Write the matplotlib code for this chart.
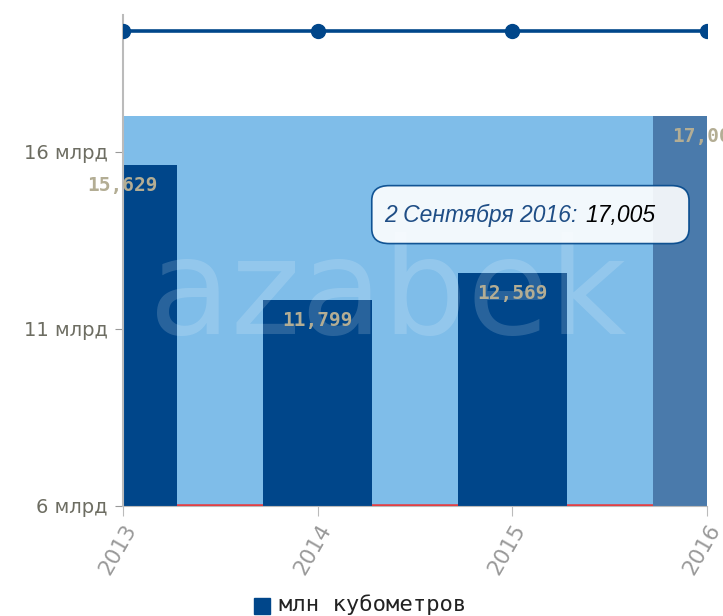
import matplotlib.pyplot as plt
import numpy as np
from matplotlib.patches import FancyBboxPatch

# data (values in billions of cubic metres)
years = [2013, 2014, 2015, 2016]
values = [15.629, 11.799, 12.569, 17.005]
bar_labels = ['15,629', '11,799', '12,569', '17,005']
yticks = [6, 11, 16]
ytick_labels = ['6 млрд', '11 млрд', '16 млрд']
band_top = 17.005     # light blue area
top_line = [19.4, 19.4, 19.4, 19.4]

dark = '#00468a'
hover = '#4a7aab'
light = '#7fbde9'

fig = plt.figure(figsize=(7.23, 6.16), dpi=100)
ax = fig.add_axes([0.170, 0.179, 0.808, 0.797])
ax.set_xlim(2013, 2016)
ax.set_ylim(6, 19.87)

x = np.array(years)
ax.fill_between([2013, 2016], 6, band_top, color=light, zorder=1, lw=0)
ax.plot([2013, 2016], [6.03, 6.03], color='#e8383d', lw=1.8, zorder=1.5)

colors = [dark, dark, dark, hover]
bars = ax.bar(x, np.array(values) - 6, bottom=6, width=0.56, color=colors, zorder=2)

# watermark
ax.text(2014.36, 10.85, 'azabek', fontsize=96, color='white', alpha=0.16,
        ha='center', va='baseline', family='DejaVu Sans', zorder=3)

for xi, v, lab in zip(x, values, bar_labels):
    ax.text(xi, v - 0.3, lab, ha='center', va='top', fontsize=14, fontweight='bold',
            color='#b3ad94', zorder=4, clip_on=False, family='DejaVu Sans Mono')

ax.plot(x, top_line, color=dark, lw=2.6, marker='o', ms=10, zorder=4)

# tooltip
tip = FancyBboxPatch((0.43, 0.538), 0.535, 0.11, boxstyle='round,pad=0.004,rounding_size=0.03',
                     transform=ax.transAxes, facecolor='white', alpha=0.9, edgecolor=dark,
                     lw=1.2, zorder=5)
ax.add_patch(tip)
t1 = ax.text(0.448, 0.592, '2 Сентября 2016:', transform=ax.transAxes, fontsize=16.5,
             style='italic', color='#1f4e86', va='center', family='Liberation Sans', zorder=6)
fig.canvas.draw()
bb = t1.get_window_extent().transformed(ax.transAxes.inverted())
ax.text(bb.x1 + 0.012, 0.592, '17,005', transform=ax.transAxes, fontsize=16.5, style='italic',
        color='black', va='center', family='Liberation Sans', zorder=6)

ax.set_yticks(yticks, ytick_labels)
ax.set_xticks(years, [str(y) for y in years], rotation=60, ha='right', rotation_mode='anchor')
ax.tick_params(axis='y', colors='#999999', labelcolor='#6d6d62', labelsize=14, length=6, pad=5)
ax.tick_params(axis='x', colors='#bbbbbb', labelcolor='#999999', labelsize=15.5, length=7, pad=4)
for s in ['top', 'right']:
    ax.spines[s].set_visible(False)
ax.spines['left'].set_color('#bbbbbb')
ax.spines['left'].set_linewidth(1.5)
ax.spines['bottom'].set_color('#bbbbbb')

# legend
fig.patches.append(plt.Rectangle((0.351, 0.003), 0.022, 0.026, transform=fig.transFigure,
                                 color=dark, figure=fig))
fig.text(0.386, 0.018, 'млн кубометров', fontsize=16, color='#222222', va='center',
         family='DejaVu Sans Mono')

fig.savefig('out.png', dpi=100)
